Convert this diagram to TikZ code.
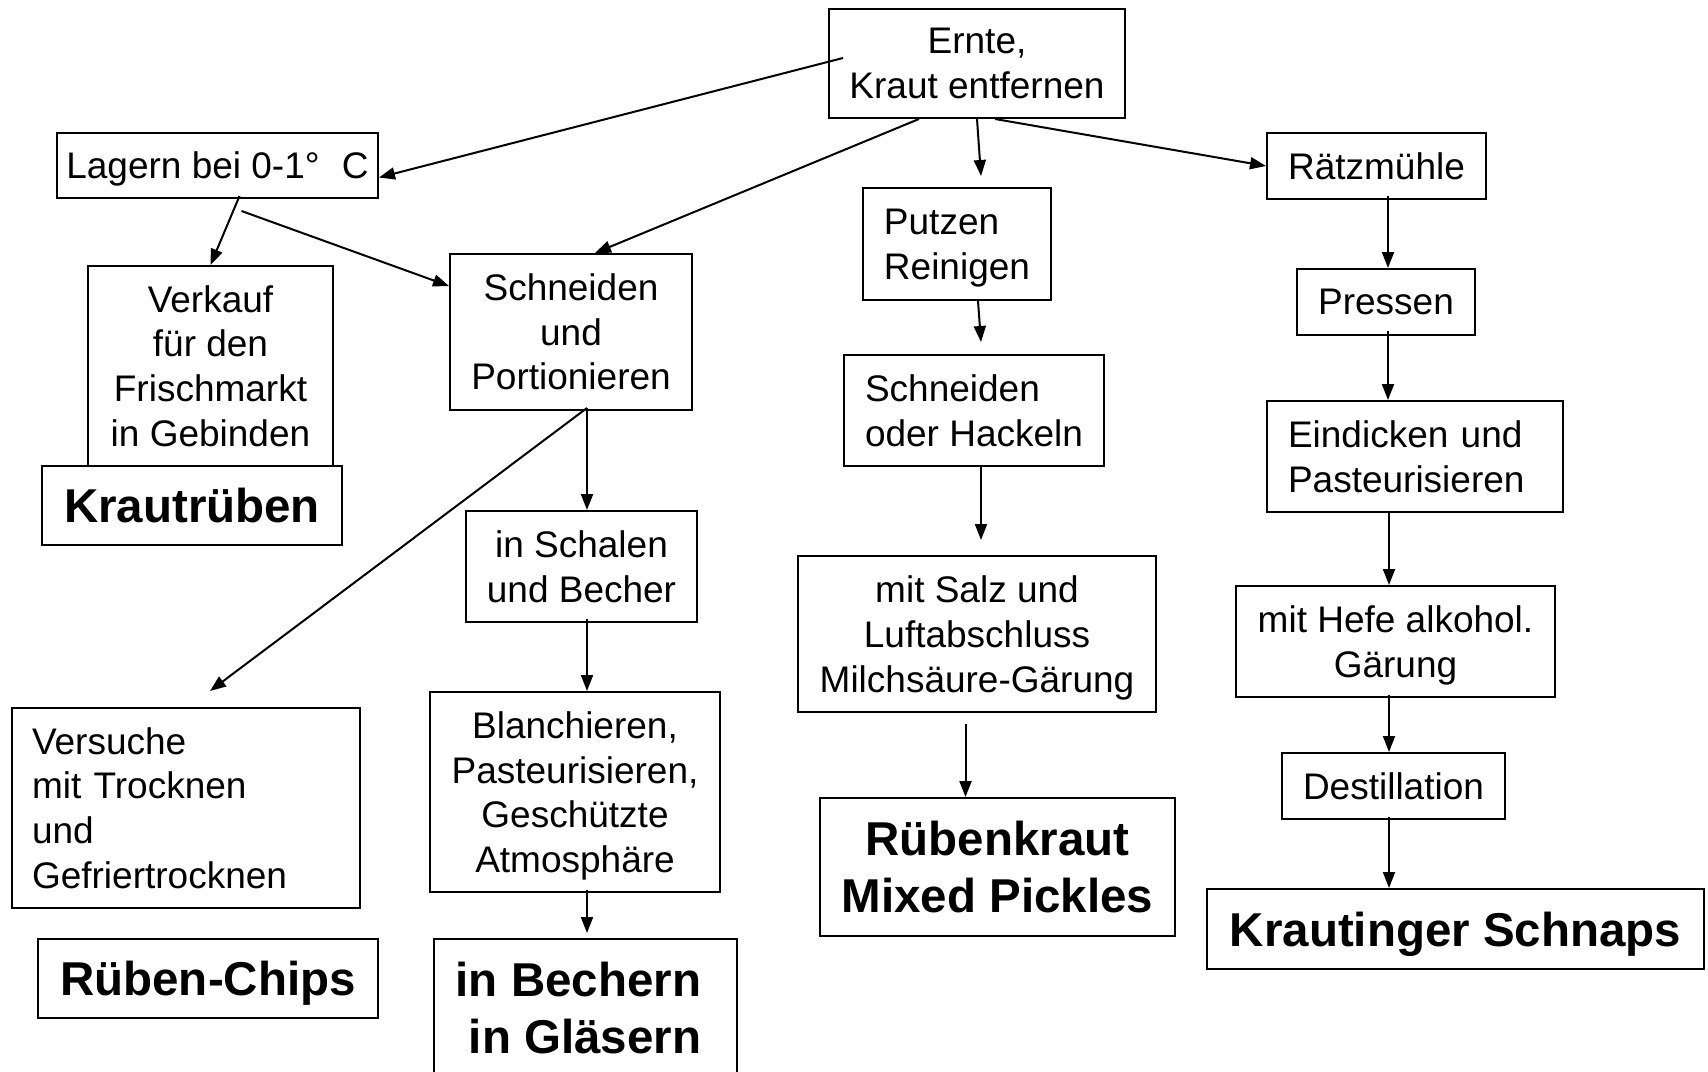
\documentclass[tikz,border=0pt]{standalone}
\usepackage{fontspec}
\setmainfont{Liberation Sans}
\usetikzlibrary{arrows.meta,calc}
\begin{document}
\begin{tikzpicture}[x=1pt,y=-1pt,
  box/.style={draw, line width=2pt, inner sep=0pt, align=center, fill=white,
    font=\fontsize{37}{44.6}\selectfont},
  lbox/.style={box, align=left},
  bigbox/.style={box, font=\fontsize{47.5}{57.7}\selectfont\bfseries},
  nodepth/.style={text depth=0pt},
  arr/.style={line width=2pt, -{Triangle[length=16pt,width=12pt]}}]
\useasboundingbox (0,0) rectangle (1708,1071);
\clip (0,0) rectangle (1708,1071);
\fill[white] (0,0) rectangle (1708,1071);

% column 1/2
\node[box, minimum width=296pt, minimum height=109pt] (ernte) at (977,63.5) {Ernte,\\Kraut entfernen};
\node[box, nodepth, minimum width=321pt, minimum height=65pt] (lagern) at (217.5,165.5) {Lagern bei 0-1°\hspace{0.6em}C};
\node[box, minimum width=245pt, minimum height=200pt] (verkauf) at (210.5,366) {Verkauf\\für den\\Frischmarkt\\in Gebinden};
\node[bigbox, minimum width=300pt, minimum height=79pt] (kraut) at (192,505.5) {Krautrüben};
\node[box, minimum width=242pt, minimum height=156pt] (schneidenP) at (571,332) {Schneiden\\und\\Portionieren};
\node[box, minimum width=231pt, minimum height=111pt] (schalen) at (581.5,566.5) {in Schalen\\und Becher};
\node[lbox, minimum width=348pt, minimum height=200pt, text width=308pt] (versuche) at (186,808) {Versuche\\\mbox{mit Trocknen}\\und\\Gefriertrocknen};
\node[bigbox, nodepth, minimum width=340pt, minimum height=79pt] (chips) at (208,978.5) {Rüben-Chips};
\node[box, nodepth, minimum width=290pt, minimum height=200pt] (blanch) at (575,792) {Blanchieren,\\Pasteurisieren,\\Geschützte\\Atmosphäre};
\node[bigbox, align=right, minimum width=303pt, minimum height=138pt] (bechern) at (585.5,1008) {in Bechern\kern14pt\\in Gläsern\kern14pt};

% column 3
\node[lbox, nodepth, minimum width=188pt, minimum height=112pt] (putzen) at (957,244) {Putzen\\Reinigen};
\node[lbox, minimum width=260pt, minimum height=111pt] (hackeln) at (974,410.5) {Schneiden\\oder Hackeln};
\node[box, nodepth, minimum width=358pt, minimum height=156pt] (salz) at (977,634) {mit Salz und\\Luftabschluss\\Milchsäure-Gärung};
\node[bigbox, minimum width=355pt, minimum height=138pt] (pickles) at (997.5,867) {Rübenkraut\\Mixed Pickles};

% column 4
\node[box, minimum width=219pt, minimum height=66pt] (raetz) at (1376.5,166) {Rätzmühle};
\node[box, minimum width=178pt, minimum height=66pt] (pressen) at (1386,302) {Pressen};
\node[lbox, minimum width=296pt, minimum height=111pt, text width=254pt] (eindicken) at (1415,456.5) {\mbox{Eindicken und}\\Pasteurisieren};
\node[box, nodepth, minimum width=319pt, minimum height=111pt] (hefe) at (1395.5,641.5) {mit Hefe alkohol.\\Gärung};
\node[box, minimum width=223pt, minimum height=66pt] (destill) at (1393.5,786) {Destillation};
\node[bigbox, nodepth, minimum width=497pt, minimum height=80pt] (schnaps) at (1455.5,929) {Krautinger Schnaps};

% connectors
\draw[arr] ($(ernte.west)+(15,-5.5)$) -- ($(lagern.east)+(0,12)$);
\draw[arr] ($(ernte.south)+(-58,0)$) -- ($(schneidenP.north)+(24,0)$);
\draw[arr] (ernte.south) -- ($(putzen.north)+(24,-11)$);
\draw[arr] ($(ernte.south)+(18,0)$) -- (raetz.west);
\draw[arr] ($(lagern.south)+(22,-3)$) -- (verkauf.north);
\draw[arr] ($(lagern.south)+(24,12)$) -- ($(schneidenP.west)+(0,-46)$);
\draw[arr] ($(schneidenP.south)+(16,-3)$) -- ($(schalen.north)+(5.5,0)$);
\draw[arr] ($(schneidenP.south)+(16,-3)$) -- ($(versuche.north)+(24,-16)$);
\draw[arr] ($(schalen.south)+(5.5,-4)$) -- ($(blanch.north)+(12,0)$);
\draw[arr] ($(blanch.south)+(12,-3)$) -- ($(bechern.north)+(1.5,-5)$);
\draw[arr] ($(putzen.south)+(21,0)$) -- ($(hackeln.north)+(7,-12)$);
\draw[arr] ($(hackeln.south)+(7,0)$) -- ($(salz.north)+(4,-15)$);
\draw[arr] ($(salz.south)+(-11.5,11)$) -- ($(pickles.north)+(-32,0)$);
\draw[arr] ($(raetz.south)+(11.5,-4)$) -- ($(pressen.north)+(2,0)$);
\draw[arr] ($(pressen.south)+(2,-5)$) -- ($(eindicken.north)+(-27,0)$);
\draw[arr] ($(eindicken.south)+(-26,0)$) -- ($(hefe.north)+(-6.5,0)$);
\draw[arr] ($(hefe.south)+(-6.5,-3)$) -- ($(destill.north)+(-4.5,0)$);
\draw[arr] ($(destill.south)+(-4.5,-3)$) -- ($(schnaps.north)+(-66.5,0)$);
\end{tikzpicture}
\end{document}
